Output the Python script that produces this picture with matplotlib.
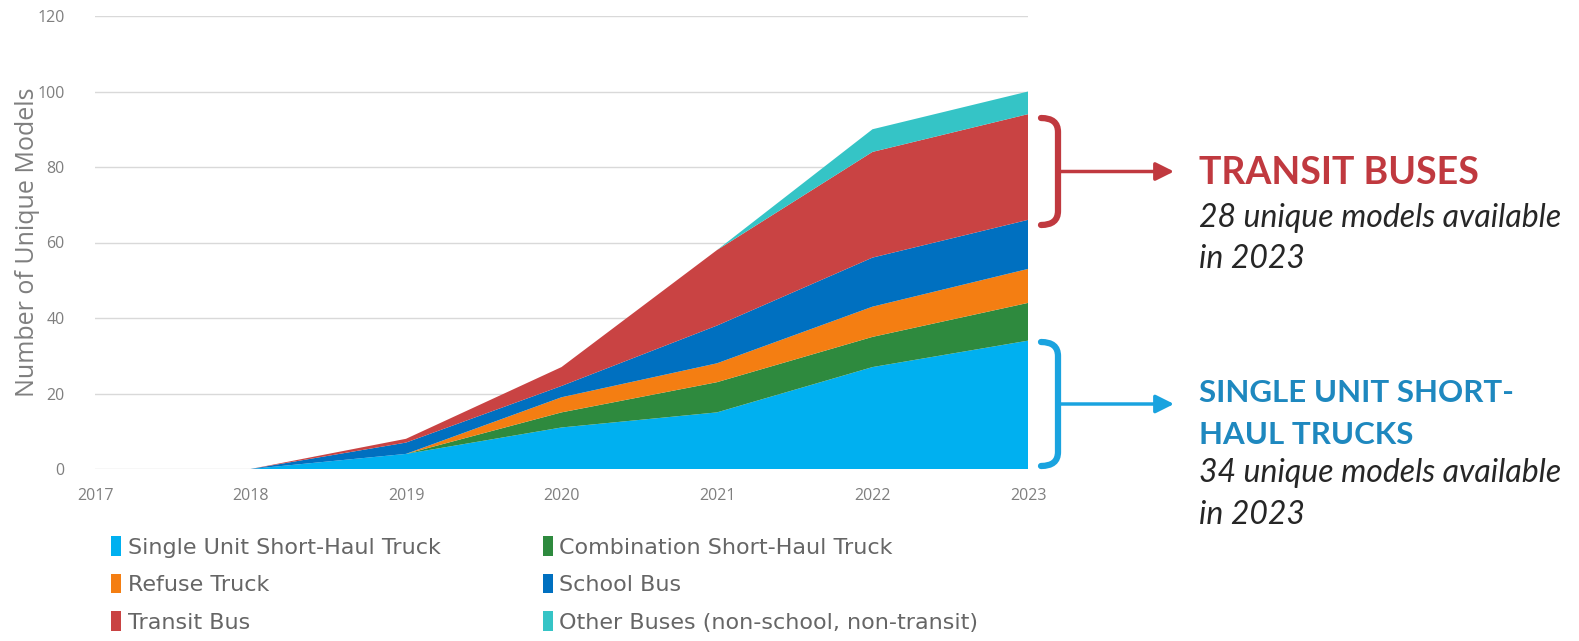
import numpy as np
import matplotlib
matplotlib.use("Agg")
import matplotlib.pyplot as plt
from matplotlib.patches import Patch
from matplotlib.path import Path
from matplotlib.patches import PathPatch

# unique medium/heavy-duty zero-emission models by year
years = [2017, 2018, 2019, 2020, 2021, 2022, 2023]
single_unit = [0, 0, 4, 11, 15, 27, 34]
combination = [0, 0, 0, 4, 8, 8, 10]
refuse = [0, 0, 0, 4, 5, 8, 9]
school_bus = [0, 0, 3, 3, 10, 13, 13]
transit_bus = [0, 0, 1, 5, 20, 28, 28]
other_bus = [0, 0, 0, 0, 0, 6, 6]

labels = ["Single Unit Short-Haul Truck", "Combination Short-Haul Truck",
          "Refuse Truck", "School Bus", "Transit Bus",
          "Other Buses (non-school, non-transit)"]
colors = ["#00B0F0", "#2E8A3E", "#F47E12", "#0070C0", "#C94343", "#35C4C6"]

plt.rcParams['font.family'] = ['Open Sans', 'DejaVu Sans']

W, H = 1579, 641
fig = plt.figure(figsize=(W / 100, H / 100), dpi=100)
ax = fig.add_axes([95 / W, 1 - 469 / H, (1028 - 95) / W, (469 - 16) / H])

ax.stackplot(years, single_unit, combination, refuse, school_bus, transit_bus,
             other_bus, colors=colors, linewidth=0, zorder=2)

ax.set_xlim(2017, 2023)
ax.set_ylim(0, 120)
ax.set_yticks(range(0, 121, 20))
ax.set_xticks(years)
ax.grid(axis='y', color='#D9D9D9', linewidth=1, zorder=0)
for s in ax.spines.values():
    s.set_visible(False)
ax.tick_params(length=0, colors='#7F7F7F', labelsize=11.5)
ax.tick_params(axis='x', pad=14)
ax.tick_params(axis='y', pad=22)
ax.set_ylabel("Number of Unique Models", color='#7F7F7F', fontsize=18,
              labelpad=-2)

# legend, two columns under the plot
handles = [Patch(facecolor=c, edgecolor='none') for c in colors]
order = [0, 2, 4, 1, 3, 5]
fig.legend([handles[i] for i in order], [labels[i] for i in order],
           ncol=2, loc='upper left', bbox_to_anchor=(91 / W, 1 - 516 / H),
           frameon=False, prop=dict(family='DejaVu Sans', size=16),
           handlelength=0.45, handleheight=1.0,
           handletextpad=0.3, columnspacing=4.6, labelspacing=0.72,
           labelcolor='#666666')

# callouts on the right, drawn in pixel space
ov = fig.add_axes([0, 0, 1, 1])
ov.set_xlim(0, W)
ov.set_ylim(H, 0)
ov.axis('off')


def bracket(y0, y1, color):
    x0, x1, r = 1041, 1058, 14
    verts = [(x0, y0), (x1, y0), (x1, y0 + r), (x1, y1 - r), (x1, y1), (x0, y1)]
    codes = [Path.MOVETO, Path.CURVE3, Path.CURVE3, Path.LINETO,
             Path.CURVE3, Path.CURVE3]
    ov.add_patch(PathPatch(Path(verts, codes), fill=False, edgecolor=color,
                           linewidth=4.5, capstyle='round'))
    ym = (y0 + y1) / 2
    ov.annotate("", xy=(1174, ym), xytext=(x1, ym),
                arrowprops=dict(arrowstyle='-|>,head_length=0.5,head_width=0.25',
                                color=color, lw=2.5,
                                mutation_scale=22, shrinkA=0, shrinkB=0))


red = '#C0393F'
blue = '#1AA3DF'
bracket(118, 225, red)
bracket(342, 466, blue)

desc = dict(color='#262626', fontsize=23, style='italic', family='Lato',
            va='center')
ov.text(1199, 173, "TRANSIT BUSES", color=red, fontsize=27, fontweight='bold',
        family='Lato', va='center')
ov.text(1199, 218, f"{transit_bus[-1]} unique models available", **desc)
ov.text(1199, 259, "in 2023", **desc)

ov.text(1199, 393, "SINGLE UNIT SHORT-", color='#1E88BF', fontsize=22.5,
        fontweight='bold', family='Lato', va='center')
ov.text(1199, 435, "HAUL TRUCKS", color='#1E88BF', fontsize=22.5,
        fontweight='bold', family='Lato', va='center')
ov.text(1199, 473, f"{single_unit[-1]} unique models available", **desc)
ov.text(1199, 515, "in 2023", **desc)

fig.savefig("out.png", dpi=100)
